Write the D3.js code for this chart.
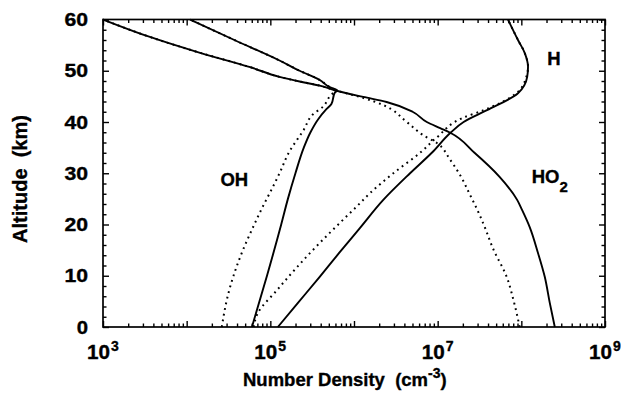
<!DOCTYPE html>
<html>
<head>
<meta charset="utf-8">
<script src="https://cdn.jsdelivr.net/npm/d3@7"></script>
<style>
  html, body { margin: 0; padding: 0; background: #fff; }
  svg { display: block; }
  text { font-family: "Liberation Sans", Arial, sans-serif; font-weight: bold; fill: #000; stroke: #000; stroke-width: 0.35; }
</style>
</head>
<body>
<svg id="chart" width="621" height="393"></svg>
<script>
// Altitude profiles of OH, HO2 and H.
// Densities are stored as log10(cm^-3), altitudes in km; solid = model A, dotted = model B.

var ohSolidAlt  = [0, 10, 20, 25, 30, 35, 38, 40.5, 42.5, 43.5, 45.7, 46.2, 46.8, 48.2, 50, 52, 56, 60];
var ohSolidLog  = [4.78, 4.96, 5.13, 5.21, 5.30, 5.40, 5.48, 5.57, 5.67, 5.73, 5.77, 5.80, 5.71, 5.59, 5.35, 5.11, 4.57, 4.04];
var ohDotAlt    = [0, 6, 10, 14.5, 19, 23.5, 27, 30, 34, 38.5, 41.5, 43, 45, 46.2, 46.8, 48.2, 50, 52, 56, 60];
var ohDotLog    = [4.42, 4.49, 4.56, 4.66, 4.78, 4.91, 5.02, 5.11, 5.22, 5.40, 5.51, 5.63, 5.71, 5.77, 5.71, 5.59, 5.35, 5.11, 4.57, 4.04];

var ho2SolidAlt = [0, 4.7, 9.8, 14.4, 19.5, 22.8, 24.8, 29.3, 34, 37.9, 38.8, 40, 42, 43.9, 44.9, 46.2, 47.1, 47.9, 48.8, 50.7, 53.5, 56.6, 60];
var ho2SolidLog = [8.40, 8.34, 8.28, 8.20, 8.10, 8.01, 7.95, 7.74, 7.44, 7.15, 7.03, 6.87, 6.70, 6.39, 6.11, 5.77, 5.59, 5.35, 5.11, 4.76, 4.16, 3.56, 3.00];
var ho2DotAlt   = [0, 5, 10, 15, 20, 23, 26, 29, 32.6, 35.9, 37.5, 40, 43.3, 44.7, 46.2, 47.1, 47.9, 48.8, 50.7, 53.5, 56.6, 60];
var ho2DotLog   = [7.98, 7.91, 7.82, 7.67, 7.55, 7.47, 7.38, 7.29, 7.15, 6.99, 6.82, 6.63, 6.35, 6.11, 5.77, 5.59, 5.35, 5.11, 4.76, 4.16, 3.56, 3.00];

var hSolidAlt   = [0, 4.7, 9.8, 14.4, 19.3, 24.8, 30, 34, 38, 40, 42.3, 45.6, 48.8, 50.8, 53.5, 56, 60];
var hSolidLog   = [5.09, 5.33, 5.59, 5.82, 6.07, 6.35, 6.67, 6.93, 7.16, 7.31, 7.59, 7.96, 8.07, 8.08, 8.04, 7.96, 7.84];
var hDotAlt     = [0, 2.7, 7.2, 11.7, 16.4, 20.3, 23.8, 26.1, 30, 34, 37, 40.8, 42.3, 45.6, 48.8, 50.8, 53.5, 56, 60];
var hDotLog     = [4.80, 4.85, 5.08, 5.32, 5.59, 5.83, 6.05, 6.19, 6.47, 6.79, 6.99, 7.30, 7.55, 7.94, 8.06, 8.08, 8.04, 7.96, 7.84];

var xLabelExps  = [3, 5, 7, 9];
var yTickLabels = [0, 10, 20, 30, 40, 50, 60];

var speciesLabels = [
  { text: 'OH', sub: '', alt: 27.6, log: 4.57 },
  { text: 'H', sub: '', alt: 51.1, log: 8.39 },
  { text: 'HO', sub: '2', alt: 28.1, log: 8.34 }
];

(function () {
  'use strict';

  var plot = { left: 103, right: 605, top: 19.5, bottom: 327 };

  var svg = d3.select('#chart');

  var x = d3.scaleLog().domain([1e3, 1e9]).range([plot.left, plot.right]);
  var y = d3.scaleLinear().domain([0, 60]).range([plot.bottom, plot.top]);

  function toPoints(alts, logs) {
    return alts.map(function (a, i) { return [Math.pow(10, logs[i]), a]; });
  }

  var line = d3.line()
    .x(function (d) { return x(d[0]); })
    .y(function (d) { return y(d[1]); })
    .curve(d3.curveMonotoneY);

  var curves = [
    { pts: toPoints(ohDotAlt, ohDotLog), dotted: true },
    { pts: toPoints(ho2DotAlt, ho2DotLog), dotted: true },
    { pts: toPoints(hDotAlt, hDotLog), dotted: true },
    { pts: toPoints(ohSolidAlt, ohSolidLog), dotted: false },
    { pts: toPoints(ho2SolidAlt, ho2SolidLog), dotted: false },
    { pts: toPoints(hSolidAlt, hSolidLog), dotted: false }
  ];

  // tick values: decades + 2..9 minors on x, every 2 km on y
  var xDecades = d3.range(3, 10).map(function (e) { return Math.pow(10, e); });
  var xMinor = [];
  d3.range(3, 9).forEach(function (e) {
    for (var m = 2; m <= 9; m++) xMinor.push(m * Math.pow(10, e));
  });
  var yMajor = yTickLabels;
  var yMinor = d3.range(0, 61, 2).filter(function (v) { return v % 10 !== 0; });

  var axes = svg.append('g').attr('class', 'axes');

  function addAxis(gen, transform) {
    var g = axes.append('g').attr('transform', transform).call(gen);
    g.select('.domain').remove();
    g.selectAll('line').attr('stroke', '#000').attr('stroke-width', 1.4);
    g.selectAll('text').remove();
    return g;
  }

  // ticks drawn inward on all four sides
  addAxis(d3.axisBottom(x).tickValues(xDecades).tickSize(-6), 'translate(0,' + plot.bottom + ')');
  addAxis(d3.axisBottom(x).tickValues(xMinor).tickSize(-3.5), 'translate(0,' + plot.bottom + ')');
  addAxis(d3.axisTop(x).tickValues(xDecades).tickSize(-6), 'translate(0,' + plot.top + ')');
  addAxis(d3.axisTop(x).tickValues(xMinor).tickSize(-3.5), 'translate(0,' + plot.top + ')');
  addAxis(d3.axisLeft(y).tickValues(yMajor).tickSize(-6), 'translate(' + plot.left + ',0)');
  addAxis(d3.axisLeft(y).tickValues(yMinor).tickSize(-3.5), 'translate(' + plot.left + ',0)');
  addAxis(d3.axisRight(y).tickValues(yMajor).tickSize(-6), 'translate(' + plot.right + ',0)');
  addAxis(d3.axisRight(y).tickValues(yMinor).tickSize(-3.5), 'translate(' + plot.right + ',0)');

  // curves
  var curveGroup = svg.append('g').attr('class', 'curves');
  curveGroup.selectAll('path')
    .data(curves)
    .join('path')
    .attr('d', function (d) { return line(d.pts); })
    .attr('fill', 'none')
    .attr('stroke', '#000')
    .attr('stroke-width', function (d) { return d.dotted ? 2 : 1.9; })
    .attr('stroke-dasharray', function (d) { return d.dotted ? '1.8,4' : null; });

  // frame
  svg.append('rect')
    .attr('x', plot.left)
    .attr('y', plot.top)
    .attr('width', plot.right - plot.left)
    .attr('height', plot.bottom - plot.top)
    .attr('fill', 'none')
    .attr('stroke', '#000')
    .attr('stroke-width', 1.7);

  // y tick labels, glyphs stretched a little to the reference width
  svg.append('g').selectAll('text')
    .data(yTickLabels)
    .join('text')
    .attr('x', plot.left - 15)
    .attr('y', function (d) { return y(d) + 6.5; })
    .attr('text-anchor', 'end')
    .attr('font-size', 18)
    .attr('textLength', function (d) { return String(d).length * 12.3 - 1; })
    .attr('lengthAdjust', 'spacingAndGlyphs')
    .text(function (d) { return d; });

  // x tick labels: 10 with superscript exponent
  var xl = svg.append('g').selectAll('text')
    .data(xLabelExps)
    .join('text')
    .attr('x', function (d) { return x(Math.pow(10, d)) - 16; })
    .attr('y', 359)
    .attr('font-size', 19.5);
  xl.append('tspan').attr('textLength', 23).attr('lengthAdjust', 'spacingAndGlyphs').text('10');
  xl.append('tspan').attr('dx', 1).attr('dy', -8).attr('font-size', 14).text(function (d) { return d; });

  // axis titles
  var xt = svg.append('text')
    .attr('x', 243)
    .attr('y', 386)
    .attr('font-size', 18.5)
    .attr('xml:space', 'preserve');
  xt.append('tspan').text('Number Density  (cm');
  xt.append('tspan').attr('dy', -8).attr('font-size', 14).text('-3');
  xt.append('tspan').attr('dy', 8).text(')');

  svg.append('text')
    .attr('transform', 'translate(27,179) rotate(-90)')
    .attr('text-anchor', 'middle')
    .attr('font-size', 20)
    .attr('xml:space', 'preserve')
    .text('Altitude  (km)');

  // species labels
  var sl = svg.append('g').selectAll('text')
    .data(speciesLabels)
    .join('text')
    .attr('x', function (d) { return x(Math.pow(10, d.log)); })
    .attr('y', function (d) { return y(d.alt); })
    .attr('text-anchor', 'middle')
    .attr('font-size', 18.5);
  sl.append('tspan').text(function (d) { return d.text; });
  sl.append('tspan').attr('dy', 9).attr('font-size', 15).text(function (d) { return d.sub; });
})();
</script>
</body>
</html>
